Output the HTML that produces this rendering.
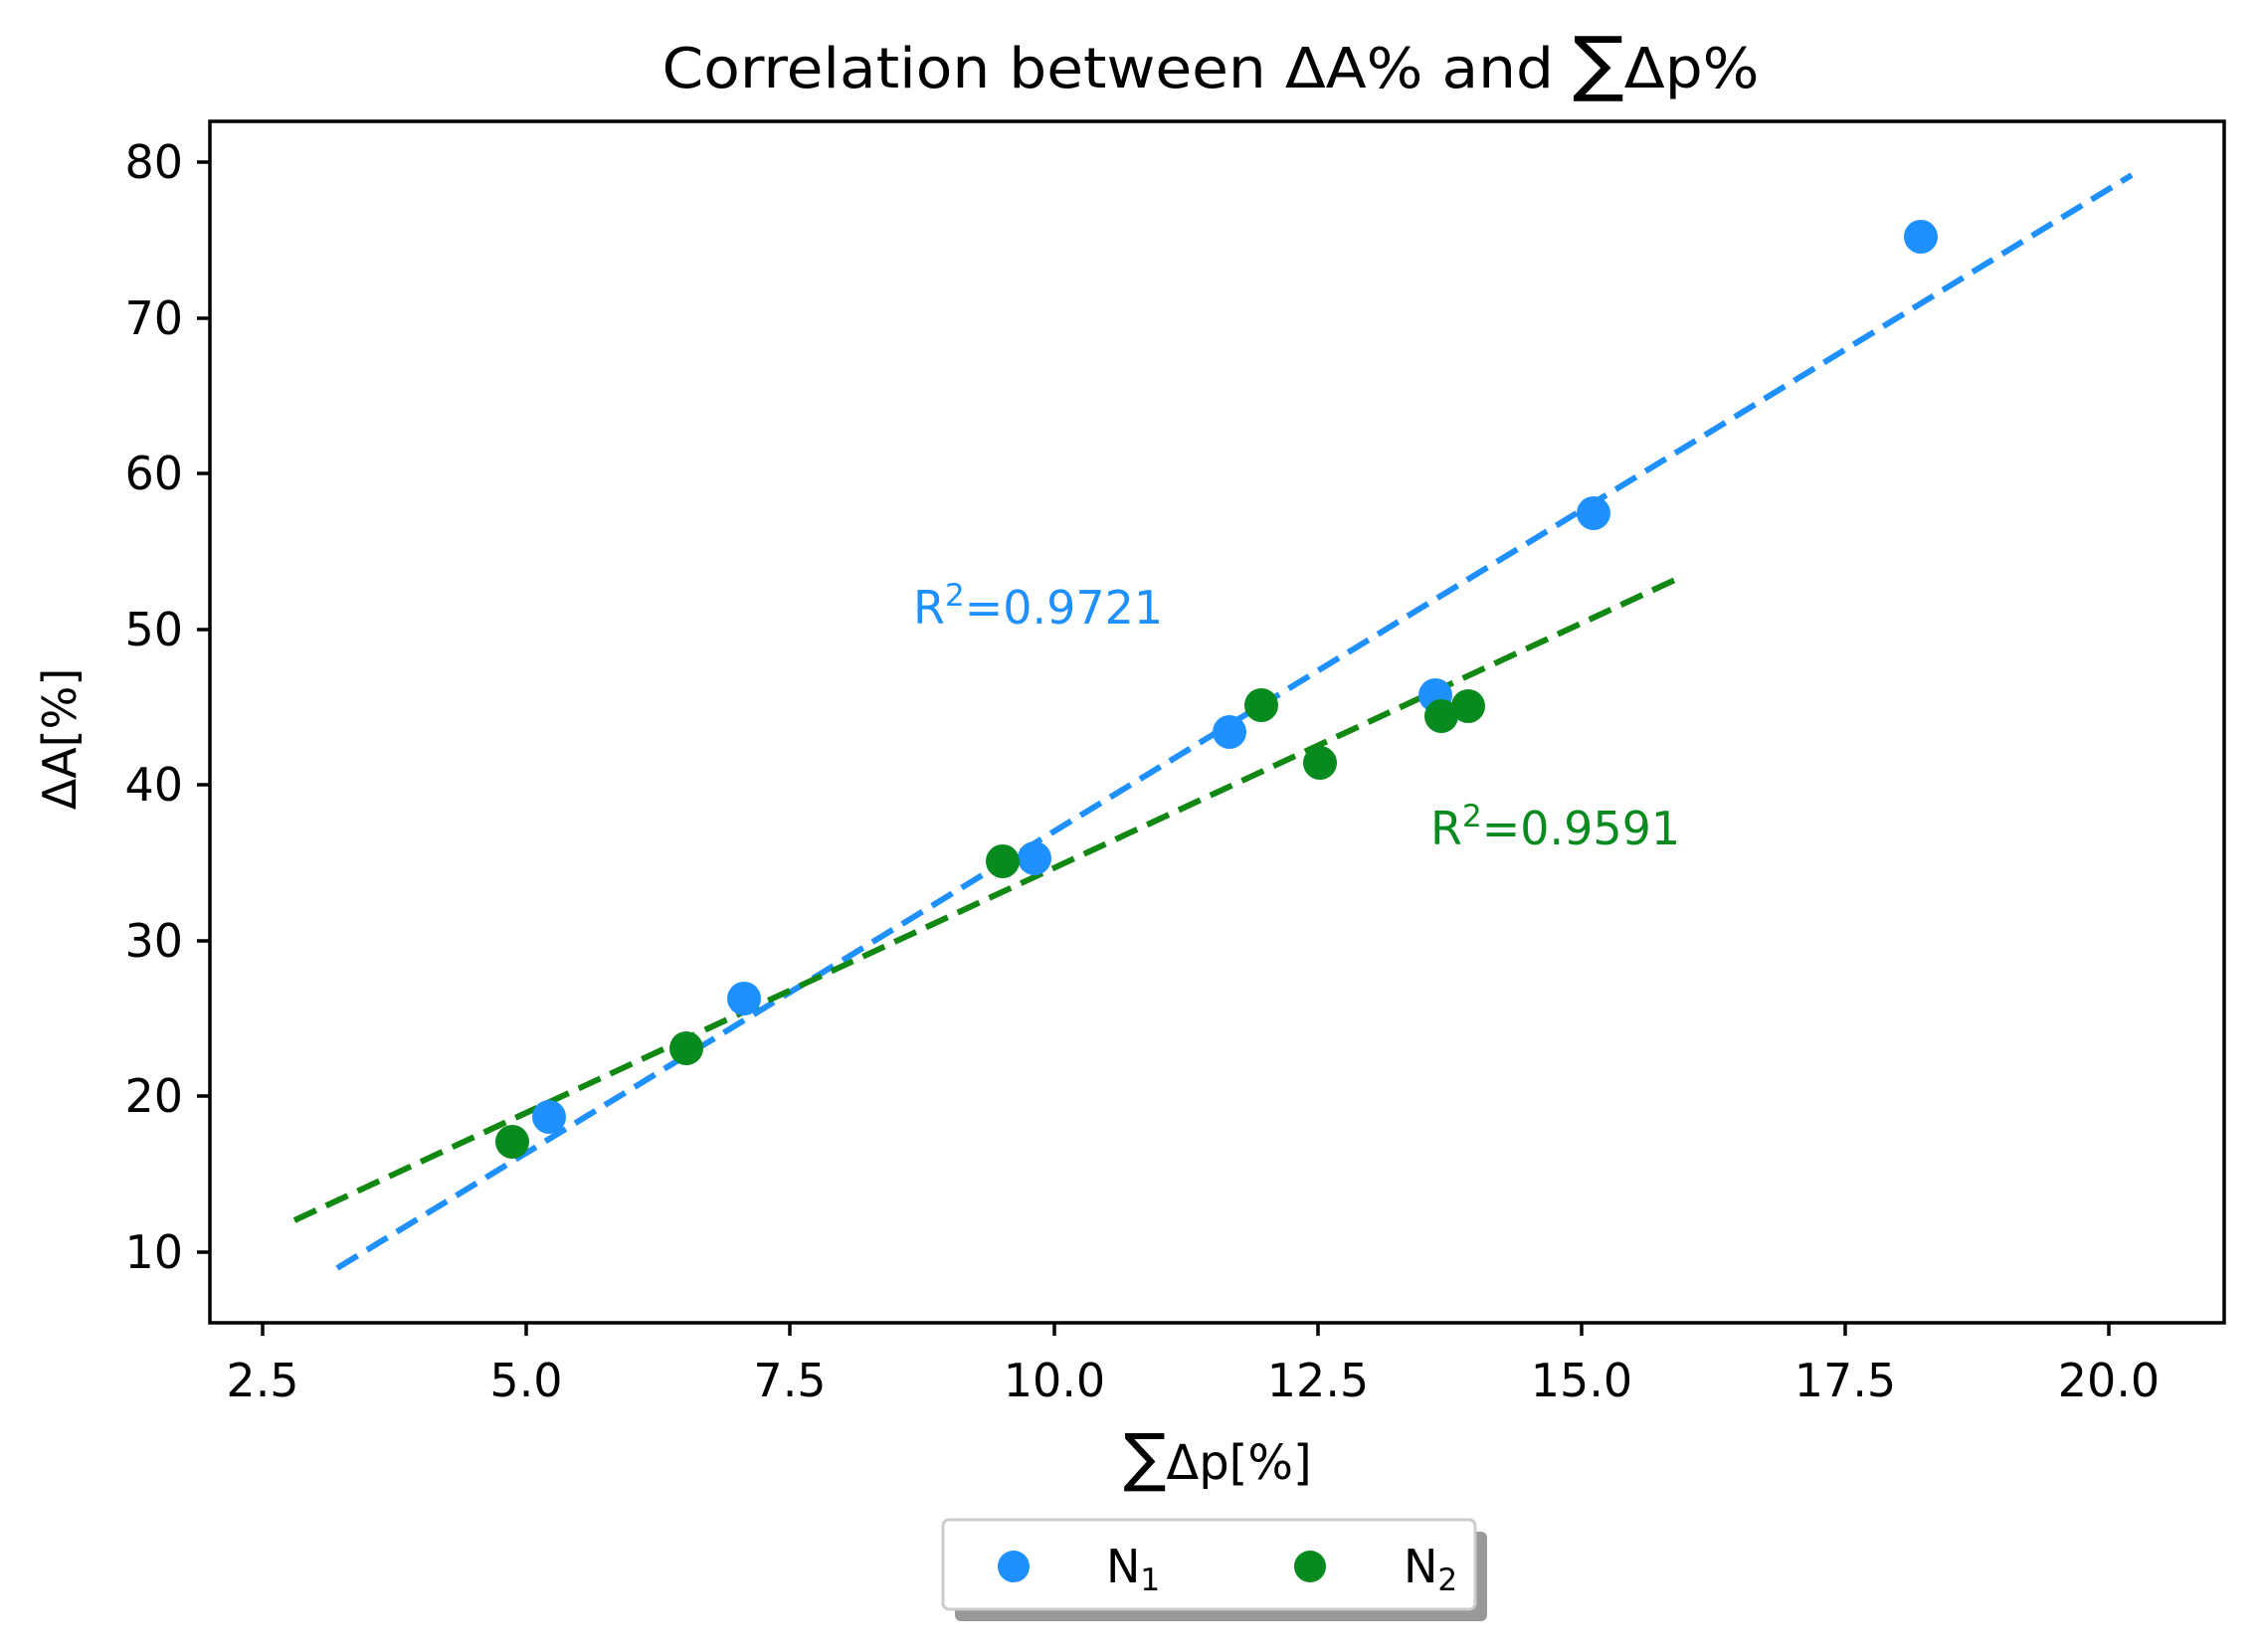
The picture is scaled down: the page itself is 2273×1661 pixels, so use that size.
<!DOCTYPE html>
<html><head><meta charset="utf-8"><style>body{margin:0;background:#fff}svg{display:block}</style></head><body>
<svg width="2273" height="1661" xmlns="http://www.w3.org/2000/svg" font-family="'DejaVu Sans','Liberation Sans',sans-serif">
<rect width="2273" height="1661" fill="#fff"/>
<text x="1217" y="88" font-size="56" text-anchor="middle" textLength="1103" lengthAdjust="spacingAndGlyphs">Correlation between ΔA% and <tspan font-size="72">∑</tspan>Δp%</text>
<line x1="339" y1="1275" x2="2143" y2="176" stroke="#1e90ff" stroke-width="6" stroke-dasharray="24,11"/>
<line x1="296" y1="1227" x2="1686" y2="582" stroke="#118811" stroke-width="6" stroke-dasharray="24,11"/>
<g fill="#1e90ff">
<circle cx="552" cy="1123" r="17"/><circle cx="748" cy="1004" r="17"/><circle cx="1040" cy="863" r="17"/><circle cx="1236" cy="736" r="17"/><circle cx="1443" cy="699" r="17"/><circle cx="1602" cy="516" r="17"/><circle cx="1931" cy="238" r="17"/>
</g>
<g fill="#078a1e">
<circle cx="515" cy="1148" r="17"/><circle cx="690" cy="1054" r="17"/><circle cx="1008" cy="866" r="17"/><circle cx="1268" cy="709" r="17"/><circle cx="1327" cy="767" r="17"/><circle cx="1449" cy="720" r="17"/><circle cx="1476" cy="710" r="17"/>
</g>
<text x="918" y="627" font-size="46" fill="#1e90ff">R<tspan dy="-18" font-size="31">2</tspan><tspan dy="18">=0.9721</tspan></text>
<text x="1438" y="849" font-size="46" fill="#078a1e">R<tspan dy="-18" font-size="31">2</tspan><tspan dy="18">=0.9591</tspan></text>
<rect x="211" y="122" width="2025" height="1208" fill="none" stroke="#000" stroke-width="3.5"/>
<g stroke="#000" stroke-width="3.5">
<line x1="211" y1="163" x2="198" y2="163"/><line x1="211" y1="320" x2="198" y2="320"/><line x1="211" y1="476" x2="198" y2="476"/><line x1="211" y1="633" x2="198" y2="633"/><line x1="211" y1="789" x2="198" y2="789"/><line x1="211" y1="946" x2="198" y2="946"/><line x1="211" y1="1102" x2="198" y2="1102"/><line x1="211" y1="1259" x2="198" y2="1259"/>
<line x1="264" y1="1330" x2="264" y2="1343"/><line x1="529" y1="1330" x2="529" y2="1343"/><line x1="794" y1="1330" x2="794" y2="1343"/><line x1="1060" y1="1330" x2="1060" y2="1343"/><line x1="1325" y1="1330" x2="1325" y2="1343"/><line x1="1590" y1="1330" x2="1590" y2="1343"/><line x1="1855" y1="1330" x2="1855" y2="1343"/><line x1="2120" y1="1330" x2="2120" y2="1343"/>
</g>
<g font-size="46" text-anchor="end">
<text x="184" y="179">80</text><text x="184" y="336">70</text><text x="184" y="492">60</text><text x="184" y="649">50</text><text x="184" y="805">40</text><text x="184" y="962">30</text><text x="184" y="1118">20</text><text x="184" y="1275">10</text>
</g>
<g font-size="46" text-anchor="middle">
<text x="264" y="1404">2.5</text><text x="529" y="1404">5.0</text><text x="794" y="1404">7.5</text><text x="1060" y="1404">10.0</text><text x="1325" y="1404">12.5</text><text x="1590" y="1404">15.0</text><text x="1855" y="1404">17.5</text><text x="2120" y="1404">20.0</text>
</g>
<text x="1224" y="1487" font-size="48" text-anchor="middle"><tspan font-size="64">∑</tspan>Δp[%]</text>
<text transform="translate(76,743) rotate(-90)" font-size="46" text-anchor="middle">ΔA[%]</text>
<rect x="960" y="1540" width="535" height="90" rx="6" fill="#999"/>
<rect x="948" y="1528" width="535" height="90" rx="6" fill="#fff" stroke="#ccc" stroke-width="3"/>
<circle cx="1019" cy="1575" r="16" fill="#1e90ff"/>
<circle cx="1317" cy="1575" r="16" fill="#078a1e"/>
<text x="1112" y="1591" font-size="46">N<tspan font-size="31" dy="8">1</tspan></text>
<text x="1411" y="1591" font-size="46">N<tspan font-size="31" dy="8">2</tspan></text>
</svg>
</body></html>
